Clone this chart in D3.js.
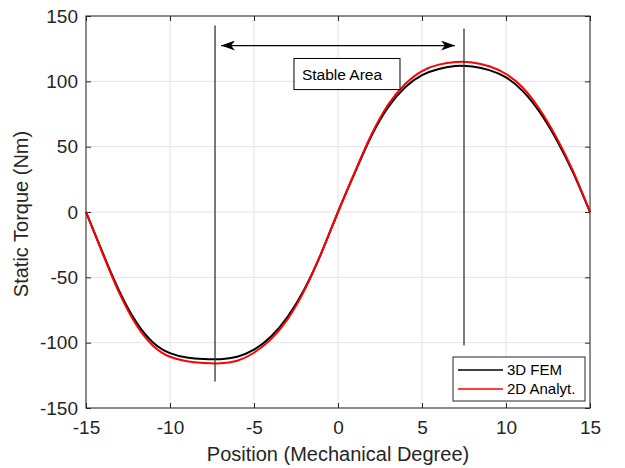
<!DOCTYPE html>
<meta charset="utf-8">
<style>
  body { margin: 0; background: #fff; }
  * { font-family: 'Liberation Sans', Arial, sans-serif; }
</style>
<svg width="625" height="468"></svg>
<script src="https://d3js.org/d3.v7.min.js"></script>
<script>
// position (mechanical degree)
var positions = [-15,-14,-13,-12,-11,-10,-9,-8,-7,-6,-5,-4,-3,-2,-1,0,1,2,3,4,5,6,7,8,9,10,11,12,13,14,15];
var fem3d = [0,-31.5,-61,-84.5,-100,-108,-111.3,-112.5,-112.6,-110.8,-105.4,-95.5,-80.2,-59,-31.6,0,
             30,58.5,80.5,95.5,104.8,109.5,111.8,111.3,108.6,103,92.5,76.5,55.5,30,0];
var analyt2d = [0,-32,-62.5,-86.5,-102.5,-110.8,-114.2,-115.5,-115.8,-113.8,-107.7,-97.5,-82,-60,-31.6,0,
                30.5,59.5,82.5,98,107.9,112.8,114.8,114.5,111.5,105.6,95.1,78.6,57.1,31.1,0];
var xTicks = [-15,-10,-5,0,5,10,15];
var yTicks = [-150,-100,-50,0,50,100,150];
var seriesNames = ["3D FEM", "2D Analyt."];
var seriesColors = ["#000000", "#ff0000"];

// annotation: vertical markers [x, yTop, yBottom], arrow span, text box
var markers = [[-7.32, 142.7, -129.7], [7.5, 140.4, -102.2]];
var arrowSpan = [-6.96, 6.96, 127.4];
var boxSpan = [-2.62, 3.69, 117.5, 93.7];

var svg = d3.select("svg"),
    margin = {top: 16, right: 35, bottom: 60, left: 86},
    width = +svg.attr("width") - margin.left - margin.right,
    height = +svg.attr("height") - margin.top - margin.bottom,
    g = svg.append("g").attr("transform", "translate(" + margin.left + "," + margin.top + ")");

var x = d3.scaleLinear().domain([-15, 15]).range([0, width]);
var y = d3.scaleLinear().domain([-150, 150]).range([height, 0]);

var axisColor = "#262626";
var fmt = function(d) { return String(d); };

// grid
g.append("g").selectAll("line").data(xTicks).enter().append("line")
    .attr("x1", d => x(d)).attr("x2", d => x(d))
    .attr("y1", 0).attr("y2", height)
    .attr("stroke", "#e3e3e3");
g.append("g").selectAll("line").data(yTicks).enter().append("line")
    .attr("y1", d => y(d)).attr("y2", d => y(d))
    .attr("x1", 0).attr("x2", width)
    .attr("stroke", "#e3e3e3");

// axes (ticks inside, box on)
function styleAxis(sel) {
  sel.select(".domain").remove();
  sel.selectAll("line").attr("stroke", axisColor);
  sel.selectAll("text").attr("fill", axisColor).style("font-size", "19px");
}
g.append("g").attr("transform", "translate(0," + height + ")")
    .call(d3.axisBottom(x).tickValues(xTicks).tickSizeInner(-5).tickSizeOuter(0).tickPadding(13).tickFormat(fmt))
    .call(styleAxis);
g.append("g")
    .call(d3.axisTop(x).tickValues(xTicks).tickSizeInner(-5).tickSizeOuter(0).tickFormat(""))
    .call(styleAxis);
g.append("g")
    .call(d3.axisLeft(y).tickValues(yTicks).tickSizeInner(-5).tickSizeOuter(0).tickPadding(8).tickFormat(fmt))
    .call(styleAxis);
g.append("g").attr("transform", "translate(" + width + ",0)")
    .call(d3.axisRight(y).tickValues(yTicks).tickSizeInner(-5).tickSizeOuter(0).tickFormat(""))
    .call(styleAxis);

g.append("rect")
    .attr("width", width).attr("height", height)
    .attr("fill", "none").attr("stroke", axisColor).attr("stroke-width", 1);

// axis titles
g.append("text")
    .attr("x", width / 2).attr("y", height + 53)
    .attr("text-anchor", "middle").attr("fill", axisColor)
    .style("font-size", "20px")
    .text("Position (Mechanical Degree)");
g.append("text")
    .attr("transform", "rotate(-90)")
    .attr("x", -height / 2 - 2).attr("y", -58)
    .attr("text-anchor", "middle").attr("fill", axisColor)
    .style("font-size", "20px")
    .text("Static Torque (Nm)");

// curves
var line = d3.line().curve(d3.curveNatural)
    .x((d, i) => x(positions[i]))
    .y(d => y(d));

[fem3d, analyt2d].forEach(function(s, i) {
  g.append("path")
      .datum(s)
      .attr("fill", "none")
      .attr("stroke", seriesColors[i])
      .attr("stroke-width", 2)
      .attr("d", line);
});

// vertical markers
g.append("g").selectAll("line").data(markers).enter().append("line")
    .attr("x1", d => x(d[0])).attr("x2", d => x(d[0]))
    .attr("y1", d => y(d[1])).attr("y2", d => y(d[2]))
    .attr("stroke", "#333").attr("stroke-width", 1.3);

// double arrow
var defs = svg.append("defs");
defs.append("marker")
    .attr("id", "ah").attr("viewBox", "0 0 14 10")
    .attr("refX", 14).attr("refY", 5)
    .attr("markerWidth", 14).attr("markerHeight", 10)
    .attr("markerUnits", "userSpaceOnUse")
    .attr("orient", "auto-start-reverse")
  .append("path")
    .attr("d", "M0,0 L14,5 L0,10 L4,5 Z")
    .attr("fill", "#000");
g.append("line")
    .attr("x1", x(arrowSpan[0])).attr("x2", x(arrowSpan[1]))
    .attr("y1", y(arrowSpan[2])).attr("y2", y(arrowSpan[2]))
    .attr("stroke", "#000").attr("stroke-width", 1.3)
    .attr("marker-start", "url(#ah)").attr("marker-end", "url(#ah)");

// text box
g.append("rect")
    .attr("x", x(boxSpan[0])).attr("y", y(boxSpan[2]))
    .attr("width", x(boxSpan[1]) - x(boxSpan[0]))
    .attr("height", y(boxSpan[3]) - y(boxSpan[2]))
    .attr("fill", "#fff").attr("stroke", "#000");
g.append("text")
    .attr("x", x(boxSpan[0]) + 8).attr("y", y(boxSpan[3]) - 10)
    .attr("fill", "#000").style("font-size", "15.5px")
    .text("Stable Area");

// legend
var lg = g.append("g").attr("transform", "translate(" + (width - 137) + "," + (height - 51) + ")");
lg.append("rect")
    .attr("width", 132).attr("height", 44)
    .attr("fill", "#fff").attr("stroke", "#262626");
seriesNames.forEach(function(n, i) {
  lg.append("line")
      .attr("x1", 5).attr("x2", 50)
      .attr("y1", 13 + i * 19).attr("y2", 13 + i * 19)
      .attr("stroke", seriesColors[i]).attr("stroke-width", 1.5);
  lg.append("text")
      .attr("x", 54).attr("y", 18 + i * 19)
      .attr("fill", "#000").style("font-size", "15px")
      .text(n);
});
</script>
